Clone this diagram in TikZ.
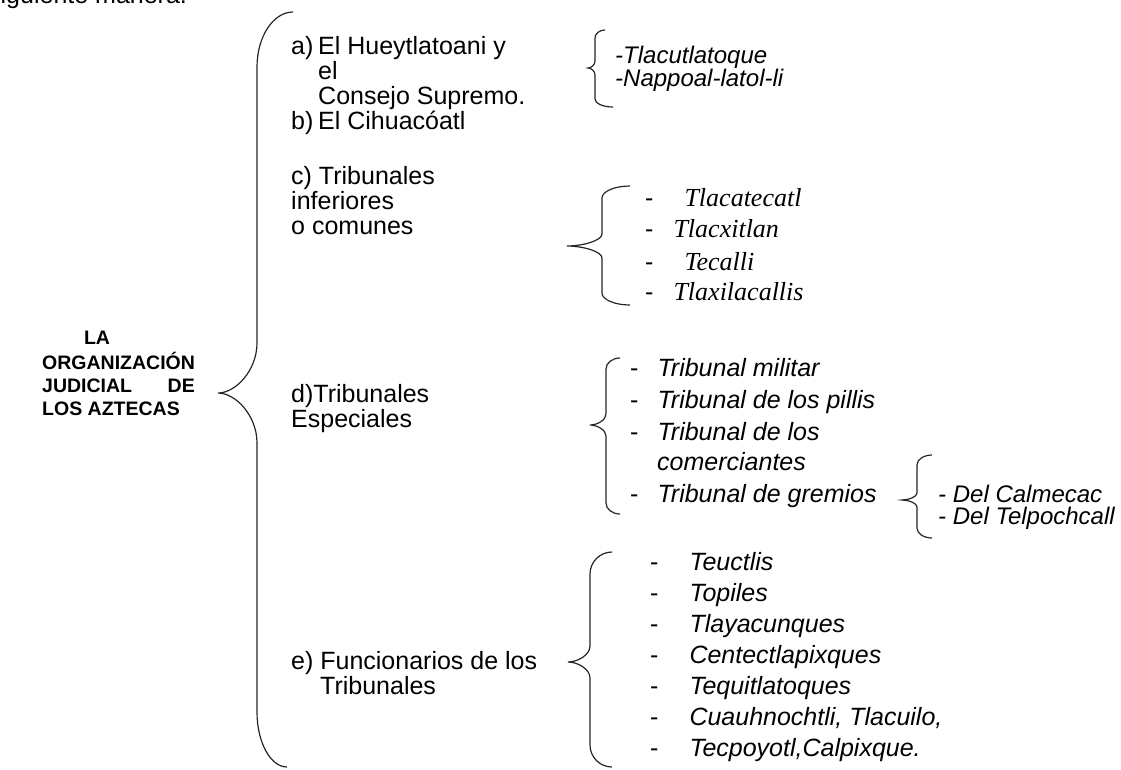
\documentclass[tikz,border=0pt]{standalone}
\usepackage{fontspec}
\setmainfont{Liberation Sans}
\newfontfamily\tnrfont{Liberation Serif}
\newcommand{\drawbrace}[9]{%
  \draw[bracestyle] (#1,#2) .. controls ({#3+0.45*(#1-#3)},#2) and (#3,{#2+0.45*#8}) .. (#3,{#2+#8})
   -- (#3,{#5-#9}) .. controls (#3,{#5-0.45*#9}) and ({#4+0.45*(#3-#4)},#5) .. (#4,#5)
   .. controls ({#4+0.45*(#3-#4)},#5) and (#3,{#5+0.45*#9}) .. (#3,{#5+#9})
   -- (#3,{#7-#8}) .. controls (#3,{#7-0.45*#8}) and ({#3+0.45*(#6-#3)},#7) .. (#6,#7);}
\tikzset{
  bracestyle/.style={line width=1.2pt, draw=black!85},
  txt/.style={inner sep=0pt, anchor=base west, font=\fontsize{25}{25}\selectfont},
  ttl/.style={inner sep=0pt, anchor=base west, font=\bfseries\fontsize{19.5}{19.5}\selectfont},
  itl/.style={inner sep=0pt, anchor=base west, font=\itshape\fontsize{25}{25}\selectfont},
  smit/.style={inner sep=0pt, anchor=base west, font=\itshape\fontsize{24}{24}\selectfont},
  serl/.style={inner sep=0pt, anchor=base west, font=\fontsize{25}{25}\selectfont}
}
\newcommand{\tnri}[1]{{\tnrfont\itshape\fontsize{26}{26}\selectfont #1}}
\begin{document}
\begin{tikzpicture}[x=1pt,y=-1pt]
\useasboundingbox (0,0) rectangle (1121,769);
\fill[white] (0,0) rectangle (1121,769);

% cut-off line at the top
\node[txt] (top) at (-12,3) {siguiente manera.};

% title
\node[ttl, anchor=base] (t0) at (97,344) {LA};
\node[ttl] (t1) at (42,369) {ORGANIZACIÓN};
\node[ttl] (t2) at (42,392) {JUDICIAL};
\node[ttl, anchor=base east] (t3) at (195,392) {DE};
\node[ttl] (t4) at (42,415) {LOS AZTECAS};

% big brace
\drawbrace{293}{12}{257}{218}{393}{287}{767}{55}{50}

% first level
\node[txt] (a1) at (291,54) {\makebox[27pt][l]{a)}El Hueytlatoani y};
\node[txt] (a2) at (318,79) {el};
\node[txt] (a3) at (318,104) {Consejo Supremo.};
\node[txt] (b1) at (291,129) {\makebox[27pt][l]{b)}El Cihuacóatl};
\node[txt] (c1) at (291,184) {c) Tribunales};
\node[txt] (c2) at (291,209) {inferiores};
\node[txt] (c3) at (291,234) {o comunes};
\node[txt] (d1) at (291,402) {d)Tribunales};
\node[txt] (d2) at (291,427) {Especiales};
\node[txt] (e1) at (291,669) {e) Funcionarios de los};
\node[txt] (e2) at (320,694) {Tribunales};

% a) brace
\drawbrace{605}{30}{595}{588}{68}{613}{107}{8}{7}
\node[smit] (aa1) at (615,63) {-Tlacutlatoque};
\node[smit] (aa2) at (615,86) {-Nappoal-latol-li};

% c) brace
\drawbrace{630}{186}{602}{567}{246}{630}{305}{12}{12}
\node[serl] (cc1) at (645,206) {-\hspace{31pt}\tnri{Tlacatecatl}};
\node[serl] (cc2) at (645,237) {-\hspace{20pt}\tnri{Tlacxitlan}};
\node[serl] (cc3) at (645,270) {-\hspace{31pt}\tnri{Tecalli}};
\node[serl] (cc4) at (645,300) {-\hspace{20pt}\tnri{Tlaxilacallis}};

% d) brace
\drawbrace{620}{358}{606}{590}{425}{620}{514}{11}{11}
\node[txt] (dd1) at (630,376) {-\hspace{19pt}\textit{Tribunal militar}};
\node[txt] (dd2) at (630,408) {-\hspace{19pt}\textit{Tribunal de los pillis}};
\node[txt] (dd3) at (630,440) {-\hspace{19pt}\textit{Tribunal de los}};
\node[itl] (dd4) at (657,470) {comerciantes};
\node[txt] (dd5) at (630,502) {-\hspace{19pt}\textit{Tribunal de gremios}};

% gremios brace
\drawbrace{932}{455}{917}{902}{500}{932}{538}{10}{7}
\node[smit] (g1) at (938,502) {- Del Calmecac};
\node[smit] (g2) at (938,524) {- Del Telpochcall};

% e) brace
\drawbrace{612}{552}{590}{568}{662}{612}{767}{22}{16}
\node[txt] (ee1) at (650,570) {-\hspace{31pt}\textit{Teuctlis}};
\node[txt] (ee2) at (650,601) {-\hspace{31pt}\textit{Topiles}};
\node[txt] (ee3) at (650,632) {-\hspace{31pt}\textit{Tlayacunques}};
\node[txt] (ee4) at (650,663) {-\hspace{31pt}\textit{Centectlapixques}};
\node[txt] (ee5) at (650,694) {-\hspace{31pt}\textit{Tequitlatoques}};
\node[txt] (ee6) at (650,725) {-\hspace{31pt}\textit{Cuauhnochtli, Tlacuilo,}};
\node[txt] (ee7) at (650,756) {-\hspace{31pt}\textit{Tecpoyotl,Calpixque.}};
\end{tikzpicture}
\end{document}
